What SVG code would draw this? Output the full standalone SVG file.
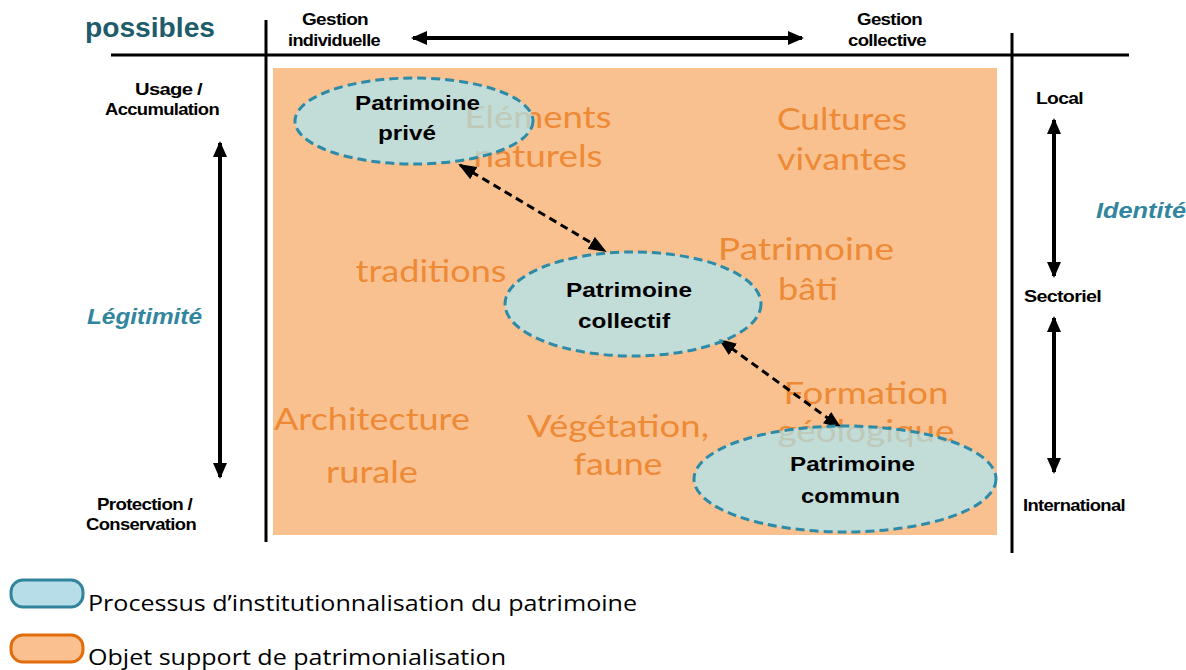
<svg xmlns="http://www.w3.org/2000/svg" width="1186" height="670" viewBox="0 0 1186 670">
<style>
.ax{stroke:#000;stroke-width:3;fill:none}
.arr{stroke:#000;stroke-width:4;fill:none}
.lbl{font-family:"Liberation Sans",Arial,sans-serif;font-weight:bold;font-size:17px;fill:#000;letter-spacing:-0.6px}
.obj{font-family:Lato,"Open Sans",sans-serif;font-size:31px;fill:#ee8a35;text-anchor:middle}
.node{font-family:"Liberation Sans",Arial,sans-serif;font-weight:bold;font-size:21px;fill:#000}
.ell{fill:#a5ebff;fill-opacity:0.65;stroke:#2e8ba8;stroke-width:3;stroke-dasharray:9 5}
.dash{stroke:#000;stroke-width:3;stroke-dasharray:8 5;fill:none}
.axis{font-family:"Liberation Sans",Arial,sans-serif;font-weight:bold;font-style:italic;font-size:22px;fill:#31869e}
.leg{font-family:"Open Sans","Noto Sans",sans-serif;font-size:21px;fill:#000}
</style>
<defs>
<marker id="ah" markerUnits="userSpaceOnUse" markerWidth="16" markerHeight="14" refX="14" refY="7" orient="auto-start-reverse">
<path d="M0,0 L16,7 L0,14 z" fill="#000"/>
</marker>
<marker id="dh" markerUnits="userSpaceOnUse" markerWidth="18" markerHeight="14" refX="16" refY="7" orient="auto-start-reverse">
<path d="M0,0 L18,7 L0,14 z" fill="#000"/>
</marker>
</defs>

<g id="frame">
<line class="ax" x1="111" y1="55" x2="1129" y2="55"/>
<line class="ax" x1="266" y1="20" x2="266" y2="542"/>
<line class="ax" x1="1012" y1="33" x2="1012" y2="553"/>
<rect x="273" y="68" width="724" height="467" fill="#f9c18f"/>
</g>

<g id="title">
<text x="85" y="37" font-family="Liberation Sans,Arial,sans-serif" font-weight="bold" font-size="27" fill="#1e5b6b" textLength="130" lengthAdjust="spacingAndGlyphs">possibles</text>
</g>

<g id="axis-labels">
<text class="lbl" x="302" y="25" textLength="66" lengthAdjust="spacingAndGlyphs">Gestion</text>
<text class="lbl" x="288" y="46" textLength="92" lengthAdjust="spacingAndGlyphs">individuelle</text>
<text class="lbl" x="857" y="25" textLength="65" lengthAdjust="spacingAndGlyphs">Gestion</text>
<text class="lbl" x="848" y="46" textLength="78" lengthAdjust="spacingAndGlyphs">collective</text>
<text class="lbl" x="135" y="95" textLength="67" lengthAdjust="spacingAndGlyphs">Usage /</text>
<text class="lbl" x="105" y="115" textLength="114" lengthAdjust="spacingAndGlyphs">Accumulation</text>
<text class="lbl" x="97" y="510" textLength="95" lengthAdjust="spacingAndGlyphs">Protection /</text>
<text class="lbl" x="86" y="530" textLength="110" lengthAdjust="spacingAndGlyphs">Conservation</text>
<text class="lbl" x="1036" y="104" textLength="47" lengthAdjust="spacingAndGlyphs">Local</text>
<text class="lbl" x="1024" y="302" textLength="77" lengthAdjust="spacingAndGlyphs">Sectoriel</text>
<text class="lbl" x="1023" y="511" textLength="102" lengthAdjust="spacingAndGlyphs">International</text>
<text class="axis" x="87" y="324" textLength="115" lengthAdjust="spacingAndGlyphs">Légitimité</text>
<text class="axis" x="1096" y="218" textLength="90" lengthAdjust="spacingAndGlyphs">Identité</text>
</g>

<g id="objects">
<text class="obj" x="538" y="128" textLength="147" lengthAdjust="spacingAndGlyphs">Eléments</text>
<text class="obj" x="538" y="167" textLength="129" lengthAdjust="spacingAndGlyphs">naturels</text>
<text class="obj" x="842" y="130" textLength="130" lengthAdjust="spacingAndGlyphs">Cultures</text>
<text class="obj" x="842" y="170" textLength="130" lengthAdjust="spacingAndGlyphs">vivantes</text>
<text class="obj" x="431" y="282" textLength="151" lengthAdjust="spacingAndGlyphs">traditions</text>
<text class="obj" x="806" y="260" textLength="176" lengthAdjust="spacingAndGlyphs">Patrimoine</text>
<text class="obj" x="808" y="300" textLength="60" lengthAdjust="spacingAndGlyphs">bâti</text>
<text class="obj" x="866" y="404" textLength="165" lengthAdjust="spacingAndGlyphs">Formation</text>
<text class="obj" x="866" y="442" textLength="177" lengthAdjust="spacingAndGlyphs">géologique</text>
<text class="obj" x="372" y="430" textLength="196" lengthAdjust="spacingAndGlyphs">Architecture</text>
<text class="obj" x="372" y="483" textLength="92" lengthAdjust="spacingAndGlyphs">rurale</text>
<text class="obj" x="618" y="437" textLength="182" lengthAdjust="spacingAndGlyphs">Végétation,</text>
<text class="obj" x="618" y="475" textLength="89" lengthAdjust="spacingAndGlyphs">faune</text>
</g>

<g id="connectors">
<line class="arr" x1="413" y1="38" x2="802" y2="38" marker-start="url(#ah)" marker-end="url(#ah)"/>
<line class="arr" x1="220" y1="143" x2="220" y2="477" marker-start="url(#ah)" marker-end="url(#ah)"/>
<line class="arr" x1="1054" y1="120" x2="1054" y2="276" marker-start="url(#ah)" marker-end="url(#ah)"/>
<line class="arr" x1="1054" y1="318" x2="1054" y2="472" marker-start="url(#ah)" marker-end="url(#ah)"/>
<line class="dash" x1="460" y1="165" x2="605" y2="251" marker-start="url(#dh)" marker-end="url(#dh)"/>
<line class="dash" x1="720" y1="340" x2="840" y2="427" marker-start="url(#dh)" marker-end="url(#dh)"/>
</g>

<g id="node-prive">
<ellipse class="ell" cx="414" cy="121" rx="119" ry="43"/>
<text class="node" x="355" y="110" textLength="125" lengthAdjust="spacingAndGlyphs">Patrimoine</text>
<text class="node" x="378" y="140" textLength="58" lengthAdjust="spacingAndGlyphs">privé</text>
</g>

<g id="node-collectif">
<ellipse class="ell" cx="633" cy="304" rx="128" ry="52"/>
<text class="node" x="566" y="297" textLength="126" lengthAdjust="spacingAndGlyphs">Patrimoine</text>
<text class="node" x="578" y="328" textLength="92" lengthAdjust="spacingAndGlyphs">collectif</text>
</g>

<g id="node-commun">
<ellipse class="ell" cx="845" cy="479" rx="151" ry="53"/>
<text class="node" x="790" y="471" textLength="125" lengthAdjust="spacingAndGlyphs">Patrimoine</text>
<text class="node" x="801" y="503" textLength="99" lengthAdjust="spacingAndGlyphs">commun</text>
</g>

<g id="legend">
<rect x="11" y="580" width="72" height="27" rx="12" fill="#b7dee8" stroke="#31849b" stroke-width="3"/>
<text class="leg" x="88" y="611" textLength="549" lengthAdjust="spacingAndGlyphs">Processus d’institutionnalisation du patrimoine</text>
<rect x="11" y="635" width="72" height="27" rx="12" fill="#fac090" stroke="#e36c0a" stroke-width="3"/>
<text class="leg" x="88" y="665" textLength="418" lengthAdjust="spacingAndGlyphs">Objet support de patrimonialisation</text>
</g>
</svg>
